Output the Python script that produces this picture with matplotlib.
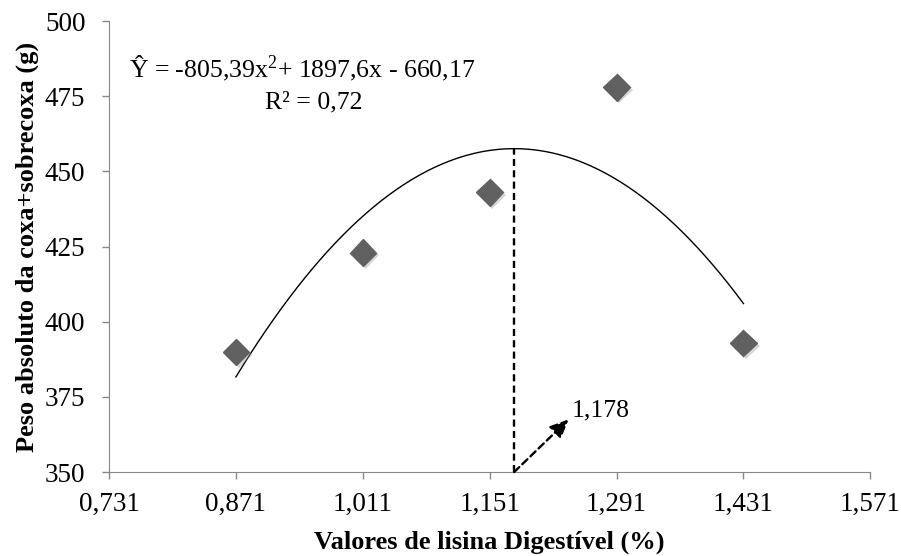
import numpy as np
import matplotlib.pyplot as plt
import matplotlib.patheffects as pe

# dados
x_vals = [0.871, 1.011, 1.151, 1.291, 1.431]
y_vals = [390, 423, 443, 478, 393]
coef = [-805.39, 1897.6, -660.17]   # equacao da curva
x_opt = 1.178
x_ticks = [0.731, 0.871, 1.011, 1.151, 1.291, 1.431, 1.571]
x_ticklabels = ['0,731', '0,871', '1,011', '1,151', '1,291', '1,431', '1,571']
y_ticks = [350, 375, 400, 425, 450, 475, 500]

plt.rcParams['font.family'] = 'Liberation Serif'
plt.rcParams['mathtext.fontset'] = 'custom'
plt.rcParams['mathtext.rm'] = 'Liberation Serif'

fig = plt.figure(figsize=(9.01, 5.56), dpi=100)
ax = fig.add_axes([0.121, 0.151, 0.845, 0.811])

xc = np.linspace(x_vals[0], x_vals[-1], 200)
ax.plot(xc, np.polyval(coef, xc), color='black', lw=1.0)

ax.plot(x_vals, y_vals, 'D', ms=13.5, color='#606060', ls='none',
        path_effects=[pe.SimplePatchShadow(offset=(2, -2), shadow_rgbFace='0.6', alpha=0.4), pe.Normal()])

y_top = np.polyval(coef, x_opt)
ax.plot([x_opt, x_opt], [350, y_top], color='black', ls=(0, (3, 1.8)), lw=1.7)
ax.annotate('', xy=(1.238, 367.5), xytext=(x_opt, 350),
            arrowprops=dict(arrowstyle='-|>,head_length=1.1,head_width=0.5', color='black',
                            lw=1.7, ls=(0, (3, 1.8)), shrinkA=0, shrinkB=0))
ax.text(1.241, 370.5, '1,178', fontsize=18.5, ha='left', va='center')

ax.text(0.944, 484.3, 'Ŷ = -805,39x$\\mathrm{^2}$+ 1897,6x - 660,17', fontsize=18.5, ha='center', va='center')
ax.text(0.957, 473, 'R² = 0,72', fontsize=18.5, ha='center', va='center')

ax.set_xlim(0.731, 1.571)
ax.set_ylim(350, 500)
ax.set_xticks(x_ticks)
ax.set_xticklabels(x_ticklabels)
ax.set_yticks(y_ticks)
ax.tick_params(labelsize=19.5, color='#888888', length=5, width=1)
ax.tick_params(axis='x', pad=9)
ax.tick_params(axis='y', pad=12)
for s in ['top', 'right']:
    ax.spines[s].set_visible(False)
for s in ['left', 'bottom']:
    ax.spines[s].set_color('#888888')
ax.set_xlabel('Valores de lisina Digestível (%)', fontsize=19, fontweight='bold', labelpad=10)
ax.set_ylabel('Peso absoluto da coxa+sobrecoxa (g)', fontsize=19, fontweight='bold', labelpad=4)

fig.savefig('out.png', dpi=100)
